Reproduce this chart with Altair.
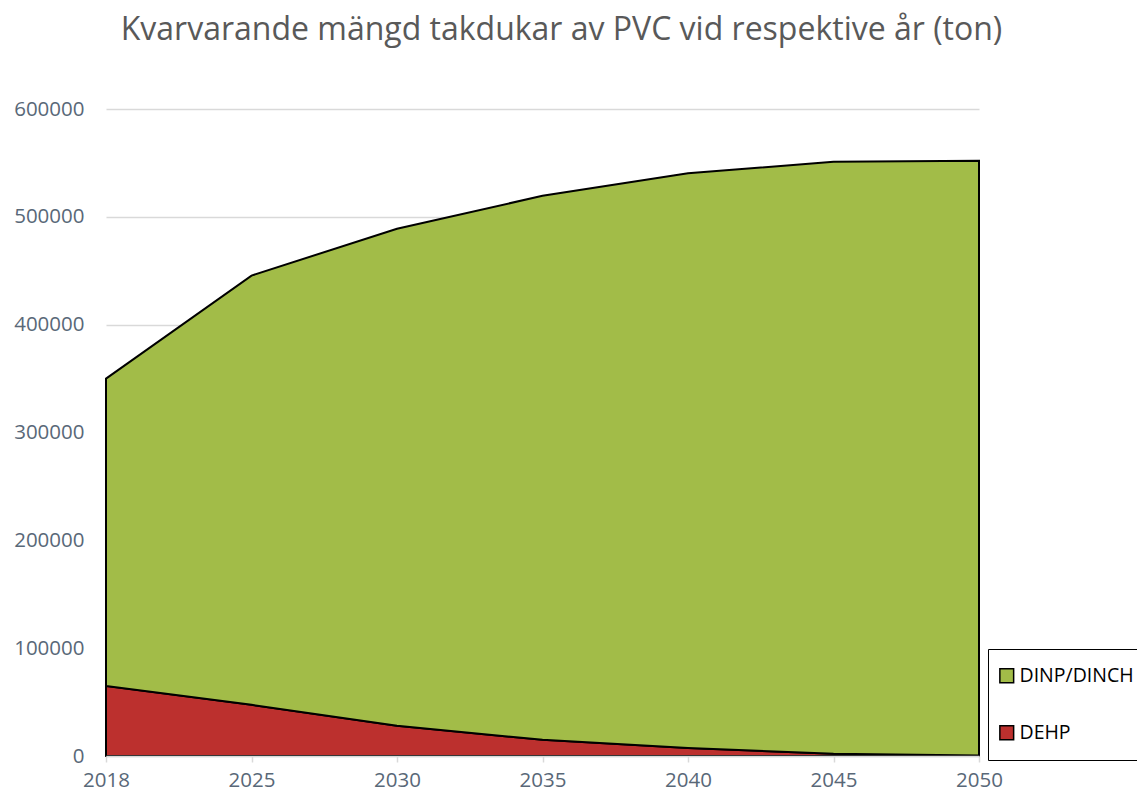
import altair as alt
import pandas as pd

years = ["2018", "2025", "2030", "2035", "2040", "2045", "2050"]
dehp = [65000, 47500, 28000, 15000, 7500, 2000, 500]
dinp = [285000, 398000, 461000, 504500, 533000, 549000, 551500]
series = ["DINP/DINCH", "DEHP"]
colors = ["#A2BC48", "#BC302E"]
y_ticks = [0, 100000, 200000, 300000, 400000, 500000, 600000]

rows = []
for i, yr in enumerate(years):
    rows.append({"year": yr, "series": "DEHP", "value": dehp[i], "ord": 0})
    rows.append({"year": yr, "series": "DINP/DINCH", "value": dinp[i], "ord": 1})
df = pd.DataFrame(rows)

FONT = "Open Sans"
LABEL = "#596878"

chart = alt.Chart(df).mark_area(stroke="black", strokeWidth=2, opacity=1).encode(
    x=alt.X("year:O", sort=years,
            scale=alt.Scale(type="point", padding=0),
            axis=alt.Axis(title=None, labelAngle=0, grid=False, domainColor="#D9D9D9",
                          domainWidth=1.5, tickColor="#D9D9D9", tickWidth=1.5, tickSize=6,
                          labelPadding=8, zindex=1)),
    y=alt.Y("value:Q", stack="zero",
            scale=alt.Scale(domain=[0, 600000], nice=False),
            axis=alt.Axis(title=None, values=y_ticks, format="d", domain=False, ticks=False,
                          labelPadding=22, gridColor="#D9D9D9", gridWidth=1.5)),
    color=alt.Color("series:N", scale=alt.Scale(domain=series, range=colors),
                    legend=alt.Legend(title=None, orient="none", legendX=882, legendY=540,
                                      strokeColor="black", padding=17, rowPadding=36,
                                      symbolType="square", symbolSize=190,
                                      symbolOffset=-8,
                                      symbolStrokeColor="black", symbolStrokeWidth=1.5,
                                      symbolOpacity=1,
                                      labelFontSize=19.5, labelFont=FONT, labelColor="black",
                                      labelOffset=3)),
    order=alt.Order("ord:Q"),
).properties(
    width=873, height=647,
    title=alt.TitleParams("Kvarvarande mängd takdukar av PVC vid respektive år (ton)",
                          fontSize=32, font=FONT, color="#595959", fontWeight="normal",
                          anchor="middle", offset=52, dx=19),
    autosize=alt.AutoSizeParams(type="none"),
    padding={"left": 98, "top": 101, "right": 158, "bottom": 34},
).configure_view(stroke=None).configure_axis(
    labelFont=FONT, labelFontSize=20.5, labelColor=LABEL
)

chart.save("out.html", embed_options={"renderer": "svg", "actions": False})
